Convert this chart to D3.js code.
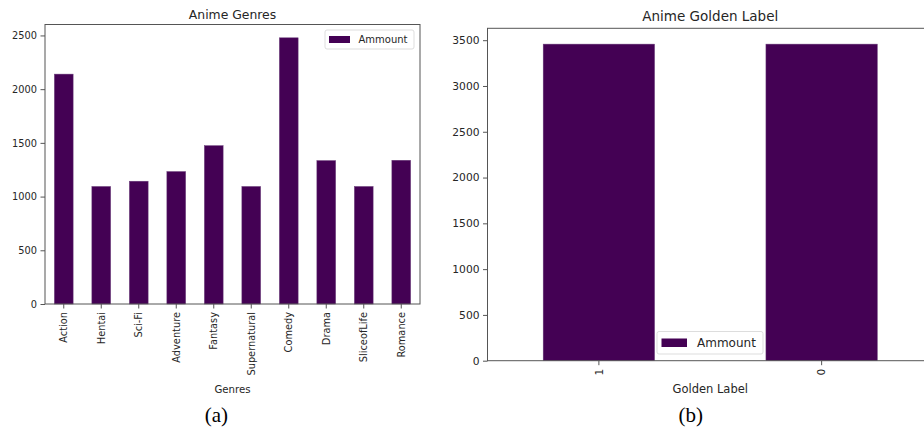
<!DOCTYPE html>
<html>
<head>
<meta charset="utf-8">
<script src="https://cdn.jsdelivr.net/npm/d3@7"></script>
<style>
  body { margin: 0; background: #fff; }
  svg text { font-family: "DejaVu Sans", sans-serif; fill: #262626; }
  .caption { font-family: "Liberation Serif", "Times New Roman", serif; fill: #000; }
</style>
</head>
<body>
<div id="container"></div>
<script>
const genres = ["Action", "Hentai", "Sci-Fi", "Adventure", "Fantasy",
  "Supernatural", "Comedy", "Drama", "SliceofLife", "Romance"];
const genreCounts = [2140, 1094, 1143, 1233, 1474, 1094, 2478, 1335, 1094, 1338];
const genreTicks = [0, 500, 1000, 1500, 2000, 2500];

const goldenLabels = ["1", "0"];
const goldenCounts = [3457, 3457];
const goldenTicks = [0, 500, 1000, 1500, 2000, 2500, 3000, 3500];

const barColor = "#440154";

const svg = d3.select("#container")
  .append("svg")
  .attr("width", 924)
  .attr("height", 428);

const drawPanel = (opts) => {
  const { left, top, right, bottom, cats, vals, ticks, title, xlabel, fs, titleFs, labelFs, legend } = opts;
  const g = svg.append("g");

  const x = d3.scaleBand()
    .domain(cats)
    .range([left, right])
    .paddingInner(0.5)
    .paddingOuter(0.25);

  const y = d3.scaleLinear()
    .domain([0, d3.max(vals) * 1.05])
    .range([bottom, top]);

  // bars
  g.selectAll(".bar")
    .data(cats)
    .enter()
    .append("rect")
    .attr("class", "bar")
    .attr("x", d => x(d))
    .attr("width", x.bandwidth())
    .attr("y", (d, i) => y(vals[i]))
    .attr("height", (d, i) => bottom - y(vals[i]))
    .attr("fill", barColor)
    .attr("stroke", "#6a3d7a")
    .attr("stroke-width", 0.5);

  // y axis
  const ya = g.append("g")
    .attr("transform", "translate(" + left + ",0)")
    .call(d3.axisLeft(y).tickValues(ticks).tickSize(4.5).tickPadding(3.5).tickFormat(d3.format("d")));
  ya.selectAll("text").attr("font-size", fs).attr("fill", "#262626");
  ya.select(".domain").remove();

  // x axis
  const xa = g.append("g")
    .attr("transform", "translate(0," + bottom + ")")
    .call(d3.axisBottom(x).tickSize(4.5).tickSizeOuter(0));
  xa.select(".domain").remove();
  xa.selectAll("text")
    .attr("font-size", fs)
    .attr("fill", "#262626")
    .attr("transform", "rotate(-90)")
    .attr("text-anchor", "end")
    .attr("x", -8)
    .attr("y", 0)
    .attr("dy", "0.35em");

  // frame
  g.append("rect")
    .attr("x", left).attr("y", top)
    .attr("width", right - left).attr("height", bottom - top)
    .attr("fill", "none")
    .attr("stroke", "#555")
    .attr("stroke-width", 1);

  g.selectAll(".tick line").attr("stroke", "#555");

  g.append("text")
    .attr("x", (left + right) / 2)
    .attr("y", opts.titleY)
    .attr("text-anchor", "middle")
    .attr("font-size", titleFs)
    .text(title);

  g.append("text")
    .attr("x", (left + right) / 2)
    .attr("y", opts.xlabelY)
    .attr("text-anchor", "middle")
    .attr("font-size", labelFs)
    .text(xlabel);

  // legend
  const lg = g.append("g").attr("transform", "translate(" + legend.x + "," + legend.y + ")");
  lg.append("rect")
    .attr("width", legend.w).attr("height", legend.h)
    .attr("rx", 2)
    .attr("fill", "#fff").attr("fill-opacity", 0.85)
    .attr("stroke", "#ddd");
  lg.append("rect")
    .attr("x", legend.px).attr("y", (legend.h - legend.ph) / 2)
    .attr("width", legend.pw).attr("height", legend.ph)
    .attr("fill", barColor);
  lg.append("text")
    .attr("x", legend.px + legend.pw + legend.gap)
    .attr("y", legend.h / 2)
    .attr("dy", "0.35em")
    .attr("font-size", legend.fs)
    .text("Ammount");
};

drawPanel({
  left: 45, top: 24.5, right: 420, bottom: 304,
  cats: genres, vals: genreCounts, ticks: genreTicks,
  title: "Anime Genres", xlabel: "Genres",
  fs: 9.8, titleFs: 12.4, labelFs: 10.2,
  titleY: 19, xlabelY: 392.5,
  legend: { x: 325, y: 30, w: 89, h: 19, px: 4, pw: 21, ph: 7, gap: 8.5, fs: 10 }
});

drawPanel({
  left: 487.5, top: 28.3, right: 933, bottom: 360.7,
  cats: goldenLabels, vals: goldenCounts, ticks: goldenTicks,
  title: "Anime Golden Label", xlabel: "Golden Label",
  fs: 10.7, titleFs: 13.5, labelFs: 11.5,
  titleY: 20.7, xlabelY: 392.7,
  legend: { x: 657, y: 331.5, w: 106, h: 22.5, px: 4.5, pw: 25.5, ph: 8.5, gap: 10, fs: 12 }
});

svg.append("text")
  .attr("class", "caption")
  .attr("x", 216.3).attr("y", 421.5)
  .attr("text-anchor", "middle")
  .attr("font-size", 21)
  .text("(a)");

svg.append("text")
  .attr("class", "caption")
  .attr("x", 690.8).attr("y", 421.5)
  .attr("text-anchor", "middle")
  .attr("font-size", 21)
  .text("(b)");
</script>
</body>
</html>
